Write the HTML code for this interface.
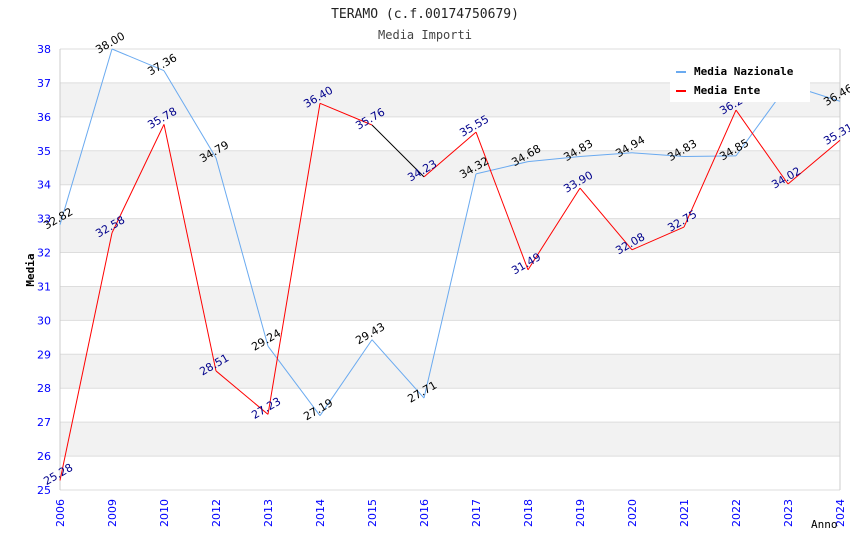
<!DOCTYPE html>
<html><head><meta charset="utf-8"><style>
body{margin:0;background:#fff;}
svg{display:block;font-family:"DejaVu Sans Mono","Liberation Mono",monospace;}
</style></head><body>
<svg id="chart" width="850" height="550">
<text x="425" y="18" text-anchor="middle" font-size="13" fill="#222">TERAMO (c.f.00174750679)</text>
<text x="425" y="39" text-anchor="middle" font-size="12" fill="#444">Media Importi</text>
<g id="grid"></g><g id="axes"></g><g id="series"></g><g id="labels"></g>
<text x="34" y="270" transform="rotate(-90 34 270)" text-anchor="middle" font-size="11" font-weight="bold" fill="#000">Media</text>
<text x="811" y="528" font-size="11" fill="#000">Anno</text>
<g>
<rect x="670" y="60" width="140" height="42" fill="#fff"/>
<line x1="676" y1="72" x2="686" y2="72" stroke="#6aaaf0" stroke-width="2"/>
<text x="694" y="75" font-size="11" font-weight="bold" fill="#000">Media Nazionale</text>
<line x1="676" y1="91" x2="686" y2="91" stroke="#f00" stroke-width="2"/>
<text x="694" y="94" font-size="11" font-weight="bold" fill="#000">Media Ente</text>
</g>
</svg>
<script>
const categories=["2006","2009","2010","2012","2013","2014","2015","2016","2017","2018","2019","2020","2021","2022","2023","2024"];
const nazionale=[32.82,38.00,37.36,34.79,29.24,27.19,29.43,27.71,34.32,34.68,34.83,34.94,34.83,34.85,36.95,36.46];
const ente=[25.28,32.58,35.78,28.51,27.23,36.40,35.76,34.23,35.55,31.49,33.90,32.08,32.75,36.20,34.02,35.31];
const yTicks=[25,26,27,28,29,30,31,32,33,34,35,36,37,38];
const NS="http://www.w3.org/2000/svg";
const L=60,R=840,T=49,B=490,yMin=25,yMax=38;
const xs=i=>L+i*(R-L)/(categories.length-1);
const ys=v=>B-(v-yMin)/(yMax-yMin)*(B-T);
function mk(tag,attrs,parent){const e=document.createElementNS(NS,tag);for(const k in attrs)e.setAttribute(k,attrs[k]);parent.appendChild(e);return e;}
const grid=document.getElementById('grid'),axes=document.getElementById('axes'),ser=document.getElementById('series'),lab=document.getElementById('labels');
for(let i=0;i<yTicks.length-1;i++){
  if(i%2===1){const r=mk('rect',{x:L,y:ys(yTicks[i+1]),width:R-L,height:ys(yTicks[i])-ys(yTicks[i+1]),fill:'#f2f2f2'},grid);
  
  }
}
yTicks.forEach(t=>{
  const l=mk('line',{x1:L,x2:R,y1:ys(t),y2:ys(t),stroke:'#ddd'},grid);
  
  
  const tx=mk('text',{x:L-9,y:ys(t)+4,'text-anchor':'end','font-size':'11',fill:'#00f','font-family':'DejaVu Sans, Liberation Sans, sans-serif'},axes);
  tx.textContent=t;
  
  
});
mk('line',{x1:L,x2:L,y1:T,y2:B,stroke:'#ccc'},axes);
mk('line',{x1:R,x2:R,y1:T,y2:B,stroke:'#ccc'},axes);
categories.forEach((c,i)=>{
  const x=xs(i)+4,y=B+37;
  const tx=mk('text',{x:x,y:y,transform:`rotate(-90 ${x} ${y})`,'font-size':'11',fill:'#00f','font-family':'DejaVu Sans, Liberation Sans, sans-serif'},axes);
  tx.textContent=c;
  
  
});
function drawSeries(vals,color,name,labColor){
  for(let i=0;i<vals.length-1;i++){
    let col=color;
    if(name==='ente'&&i===6)col='#000';
    const l=mk('line',{x1:xs(i),y1:ys(vals[i]),x2:xs(i+1),y2:ys(vals[i+1]),stroke:col,'stroke-width':1},ser);
    
    
  }
  vals.forEach((v,i)=>{
    const x=xs(i),y=ys(v)-3;
    const t=mk('text',{x:x,y:y,transform:`rotate(-30 ${x} ${y})`,'text-anchor':'middle','font-size':'11',fill:labColor,'font-family':'DejaVu Sans, Liberation Sans, sans-serif'},lab);
    t.textContent=v.toFixed(2);
    
    
  });
}
drawSeries(nazionale,'#6aaaf0','nazionale','#000');
drawSeries(ente,'#f00','ente','#00008b');
</script>
</body></html>
